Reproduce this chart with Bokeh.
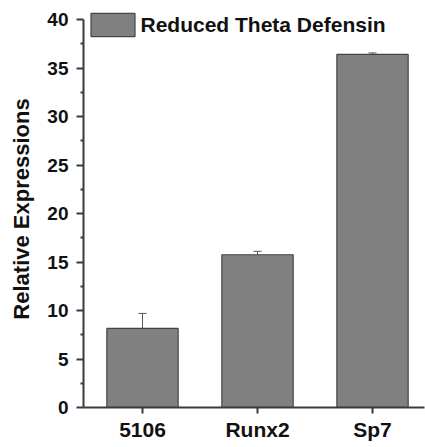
from bokeh.plotting import figure
from bokeh.models import ColumnDataSource, Whisker, TeeHead, Legend, LegendItem, FixedTicker, Range1d
from bokeh.embed import file_html
from bokeh.resources import INLINE

categories = ["5106", "Runx2", "Sp7"]
values = [8.15, 15.75, 36.4]
errors = [1.55, 0.35, 0.15]
y_ticks = [0, 5, 10, 15, 20, 25, 30, 35, 40]
series_name = "Reduced Theta Defensin"
y_label = "Relative Expressions"

xs = list(range(len(categories)))
src = ColumnDataSource(dict(
    x=xs, top=values,
    upper=[v + e for v, e in zip(values, errors)],
    lower=[v - e for v, e in zip(values, errors)],
))

FONT = "Liberation Sans"
AX = "#3a3a3a"

p = figure(width=425, height=447, output_backend="svg", toolbar_location=None,
           x_range=Range1d(-0.513, 2.452), y_range=Range1d(0, 40.93),
           min_border_left=83, min_border_right=1, min_border_top=10,
           min_border_bottom=40)
p.outline_line_color = None
p.grid.visible = False
p.background_fill_color = "white"

bars = p.vbar(x="x", top="top", width=0.62, source=src, fill_color="#808080",
              line_color="#444444", line_width=1.2)

w = Whisker(base="x", upper="upper", lower="lower", source=src,
            line_color="#555555", line_width=1,
            upper_head=TeeHead(size=8, line_color="#555555", line_width=1),
            lower_head=TeeHead(size=8, line_color="#555555", line_width=1))
p.add_layout(w)

# y axis
ya = p.yaxis[0]
ya.bounds = (0, 40)
ya.ticker = FixedTicker(ticks=y_ticks, minor_ticks=[2.5 + 5 * i for i in range(8)])
ya.axis_label = y_label
ya.axis_label_text_font = FONT
ya.axis_label_text_font_style = "bold"
ya.axis_label_text_font_size = "22px"
ya.axis_label_text_color = "#111111"
ya.axis_label_standoff = 10
ya.major_label_text_font = FONT
ya.major_label_text_font_style = "bold"
ya.major_label_text_font_size = "19px"
ya.major_label_text_color = "#111111"
ya.major_label_standoff = 8
ya.axis_line_color = AX
ya.axis_line_width = 2
ya.major_tick_line_color = AX
ya.major_tick_line_width = 2
ya.major_tick_out = 7
ya.major_tick_in = 0
ya.minor_tick_line_color = AX
ya.minor_tick_line_width = 2
ya.minor_tick_out = 3
ya.minor_tick_in = 0

# x axis
xa = p.xaxis[0]
xa.ticker = FixedTicker(ticks=xs, minor_ticks=[])
xa.major_label_overrides = {i: c for i, c in zip(xs, categories)}
xa.major_label_text_font = FONT
xa.major_label_text_font_style = "bold"
xa.major_label_text_font_size = "21px"
xa.major_label_text_color = "#111111"
xa.major_label_standoff = 4
xa.axis_line_color = AX
xa.axis_line_width = 2
xa.major_tick_line_color = AX
xa.major_tick_line_width = 2
xa.major_tick_out = 6
xa.major_tick_in = 0
xa.minor_tick_line_color = None

legend = Legend(items=[LegendItem(label=series_name, renderers=[bars])],
                location=(1.5, 368), orientation="vertical",
                glyph_width=55, glyph_height=29, label_height=29,
                label_standoff=1, padding=0, margin=0, spacing=0,
                border_line_color=None, background_fill_alpha=0,
                label_text_font=FONT, label_text_font_style="bold",
                label_text_font_size="21px", label_text_color="#111111")
p.add_layout(legend)

open("out.html", "w").write(file_html(p, INLINE))
